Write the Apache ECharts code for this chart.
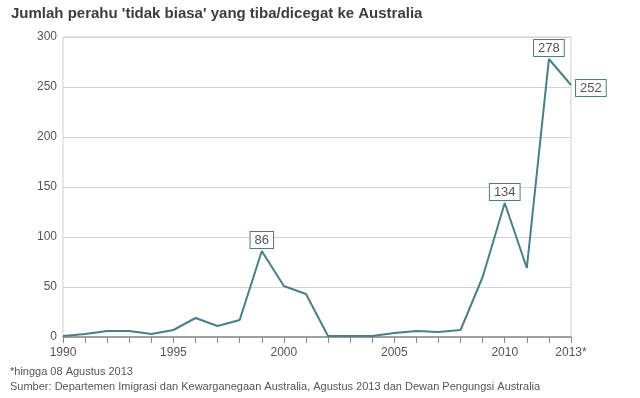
<!DOCTYPE html>
<html>
<head>
<meta charset="utf-8">
<script src="https://cdn.jsdelivr.net/npm/echarts@6/dist/echarts.min.js"></script>
<style>
html, body { margin: 0; padding: 0; background: #fff; }
#chart { width: 640px; height: 398px; }
</style>
</head>
<body>
<div id="chart"></div>
<script>
// tahun dan jumlah perahu
var years = [1990, 1991, 1992, 1993, 1994, 1995, 1996, 1997, 1998, 1999, 2000, 2001,
	2002, 2003, 2004, 2005, 2006, 2007, 2008, 2009, 2010, 2011, 2012, 2013];
var boats = [1, 3, 6, 6, 3, 7, 19, 11, 17, 86, 51, 43,
	1, 1, 1, 4, 6, 5, 7, 60, 134, 69, 278, 252];
var labelled = [1999, 2010, 2012];
var labelRight = [2013];
var xTickLabels = { 1990: '1990', 1995: '1995', 2000: '2000', 2005: '2005', 2010: '2010', 2013: '2013*' };
var yTicks = [0, 50, 100, 150, 200, 250, 300];

var teal = '#4a7f87';
var fontFam = '"Liberation Sans", Arial, sans-serif';

var boxLabel = {
	show : true,
	color : '#555',
	fontSize : 13,
	fontFamily : fontFam,
	backgroundColor : '#fff',
	borderColor : teal,
	borderWidth : 1,
	padding : [ 2, 4, 1, 4 ],
	formatter : function(p) {
		return p.value[1];
	}
};

var seriesData = years.map(function(y, i) {
	var item = { value : [ y, boats[i] ] };
	if (labelled.indexOf(y) >= 0) {
		item.label = Object.assign({}, boxLabel, { position : 'top', distance : 3 });
	} else if (labelRight.indexOf(y) >= 0) {
		item.label = Object.assign({}, boxLabel, { position : 'right', distance : 5, offset : [ 0, 3 ] });
	}
	return item;
});

var myChart = echarts.init(document.getElementById('chart'));

var option = {
	animation : false,
	textStyle : { fontFamily : fontFam },
	title : [ {
		text : "Jumlah perahu 'tidak biasa' yang tiba/dicegat ke Australia",
		left : 6,
		top : 1,
		textStyle : { fontSize : 15, fontWeight : 'bold', color : '#3d3d3d', fontFamily : fontFam }
	}, {
		text : '*hingga 08 Agustus 2013',
		left : 5,
		top : 361,
		textStyle : { fontSize : 11, fontWeight : 'normal', color : '#555', fontFamily : fontFam }
	}, {
		text : 'Sumber: Departemen Imigrasi dan Kewarganegaan Australia, Agustus 2013 dan Dewan Pengungsi Australia',
		left : 5,
		top : 376,
		textStyle : { fontSize : 11, fontWeight : 'normal', color : '#555', fontFamily : fontFam }
	} ],
	grid : {
		left : 63,
		right : 69,
		top : 37,
		bottom : 61,
		show : true,
		borderColor : '#cfcfcf',
		borderWidth : 1
	},
	xAxis : {
		type : 'value',
		min : years[0],
		max : years[years.length - 1],
		interval : 1,
		axisLine : { lineStyle : { color : '#8a8a8a', width : 1.5 } },
		axisTick : { show : true, length : 6, lineStyle : { color : '#8a8a8a' } },
		splitLine : { show : false },
		axisLabel : {
			color : '#555',
			fontSize : 12,
			margin : 10,
			formatter : function(v) {
				return xTickLabels[v] || '';
			}
		}
	},
	yAxis : {
		type : 'value',
		min : yTicks[0],
		max : yTicks[yTicks.length - 1],
		interval : 50,
		axisLine : { show : false },
		axisTick : { show : false },
		splitLine : { lineStyle : { color : '#d3d3d3', width : 1 } },
		axisLabel : { color : '#555', fontSize : 12, margin : 6 }
	},
	series : [ {
		type : 'line',
		data : seriesData,
		symbol : 'circle',
		symbolSize : 0,
		showSymbol : true,
		lineStyle : { color : teal, width : 2 },
		itemStyle : { color : teal },
		z : 5
	} ]
};

myChart.setOption(option);
</script>
</body>
</html>
